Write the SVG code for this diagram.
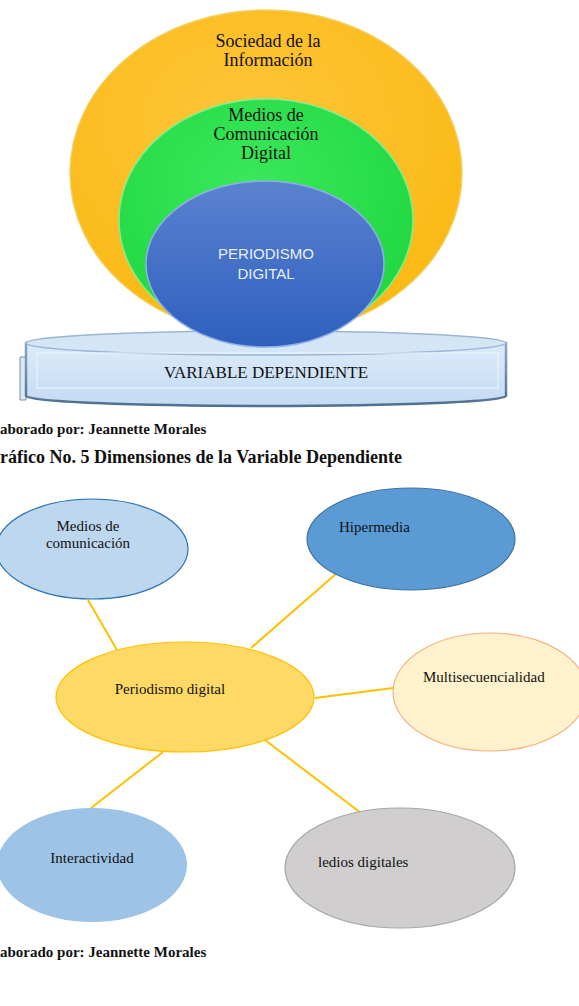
<svg xmlns="http://www.w3.org/2000/svg" width="579" height="1006" viewBox="0 0 579 1006">
<defs>
<radialGradient id="gOr" cx="0.45" cy="0.35" r="0.7"><stop offset="0" stop-color="#ffc53a"/><stop offset="1" stop-color="#f9b912"/></radialGradient>
<radialGradient id="gGr" cx="0.45" cy="0.35" r="0.7"><stop offset="0" stop-color="#3ae85a"/><stop offset="1" stop-color="#1fd640"/></radialGradient>
<linearGradient id="gBl" x1="0" y1="0" x2="0" y2="1"><stop offset="0" stop-color="#5a82cf"/><stop offset="1" stop-color="#2e5fbe"/></linearGradient>
<linearGradient id="gDisc" x1="0" y1="0" x2="0" y2="1"><stop offset="0" stop-color="#dcebfa"/><stop offset="1" stop-color="#c4dbf3"/></linearGradient>
<linearGradient id="gRim" x1="0" y1="0" x2="0" y2="1"><stop offset="0" stop-color="#8aa9c6"/><stop offset="1" stop-color="#4e6f8e"/></linearGradient>
<style>
.serif{font-family:"Liberation Serif","Times New Roman",serif;fill:#111}
.c{text-anchor:middle}
.b{font-weight:bold}
.conn line{stroke:#ffc000;stroke-width:2}
</style>
</defs>

<g id="variable-dependiente">
<path d="M20 357 L26 357 L26 400 L20 400 Z" fill="#dde8f3" stroke="#7d8fa3" stroke-width="1"/>
<path d="M26 343 L26 396 A240 10 0 0 0 506 396 L506 343 Z" fill="url(#gDisc)" stroke="url(#gRim)" stroke-width="2.5"/>
<ellipse cx="266" cy="343" rx="240" ry="12" fill="#d4e5f6" stroke="#9bb6d2" stroke-width="1.5"/>
<rect x="37" y="353" width="461" height="35" fill="none" stroke="#eef5fc" stroke-width="1"/>
<text class="serif c" x="266" y="378" font-size="17">VARIABLE DEPENDIENTE</text>
</g>

<g id="sociedad">
<ellipse cx="266" cy="173" rx="196" ry="163" fill="url(#gOr)" stroke="#f0d060" stroke-width="1.5"/>
<text class="serif c" x="268" y="47" font-size="18">Sociedad de la</text>
<text class="serif c" x="268" y="66" font-size="18">Información</text>
</g>
<g id="medios-digital">
<ellipse cx="266" cy="220" rx="147" ry="121" fill="url(#gGr)" stroke="#7ef090" stroke-width="1.5"/>
<text class="serif c" x="266" y="121" font-size="18">Medios de</text>
<text class="serif c" x="266" y="140" font-size="18">Comunicación</text>
<text class="serif c" x="266" y="159" font-size="18">Digital</text>
</g>
<g id="periodismo-top">
<ellipse cx="265" cy="264" rx="119" ry="83" fill="url(#gBl)" stroke="#8fb0e8" stroke-width="1.5"/>
<text x="266" y="259" font-size="15" text-anchor="middle" font-family="Liberation Sans, Arial, sans-serif" fill="#e8eef8">PERIODISMO</text>
<text x="266" y="279" font-size="15" text-anchor="middle" font-family="Liberation Sans, Arial, sans-serif" fill="#e8eef8">DIGITAL</text>
</g>

<text class="serif b" x="0" y="434" font-size="15">aborado por: Jeannette Morales</text>
<text class="serif b" x="0" y="463" font-size="18">ráfico No. 5 Dimensiones de la Variable Dependiente</text>

<g class="conn" id="connectors">
<line x1="88" y1="600" x2="117" y2="650"/>
<line x1="337" y1="573" x2="251" y2="648"/>
<line x1="393" y1="688" x2="315" y2="698"/>
<line x1="163" y1="752" x2="91" y2="808"/>
<line x1="265" y1="740" x2="361" y2="813"/>
</g>

<g id="n-medios">
<ellipse cx="92" cy="549" rx="96" ry="50" fill="#bdd7ee" stroke="#2e75b6" stroke-width="1.2"/>
<text class="serif c" x="88" y="531" font-size="15">Medios de</text>
<text class="serif c" x="88" y="548" font-size="15">comunicación</text>
</g>
<g id="n-hipermedia">
<ellipse cx="411" cy="539" rx="104" ry="51" fill="#5b9bd5" stroke="#41719c" stroke-width="1.2"/>
<text class="serif" x="339" y="532" font-size="15">Hipermedia</text>
</g>
<g id="n-periodismo">
<ellipse cx="185" cy="697" rx="129" ry="55" fill="#ffd966" stroke="#ffc000" stroke-width="1.2"/>
<text class="serif c" x="170" y="694" font-size="15">Periodismo digital</text>
</g>
<g id="n-multi">
<ellipse cx="490" cy="692" rx="97" ry="59" fill="#fff2cc" stroke="#f4b183" stroke-width="1.2"/>
<text class="serif" x="423" y="682" font-size="15">Multisecuencialidad</text>
</g>
<g id="n-interactividad">
<ellipse cx="92" cy="865" rx="95" ry="57" fill="#9dc3e6"/>
<text class="serif c" x="92" y="863" font-size="15">Interactividad</text>
</g>
<g id="n-medios-digitales">
<ellipse cx="400" cy="868" rx="115" ry="60" fill="#d0cece" stroke="#a5a5a5" stroke-width="1.2"/>
<text class="serif" x="318" y="867" font-size="15">ledios digitales</text>
</g>

<text class="serif b" x="0" y="957" font-size="15">aborado por: Jeannette Morales</text>
</svg>
